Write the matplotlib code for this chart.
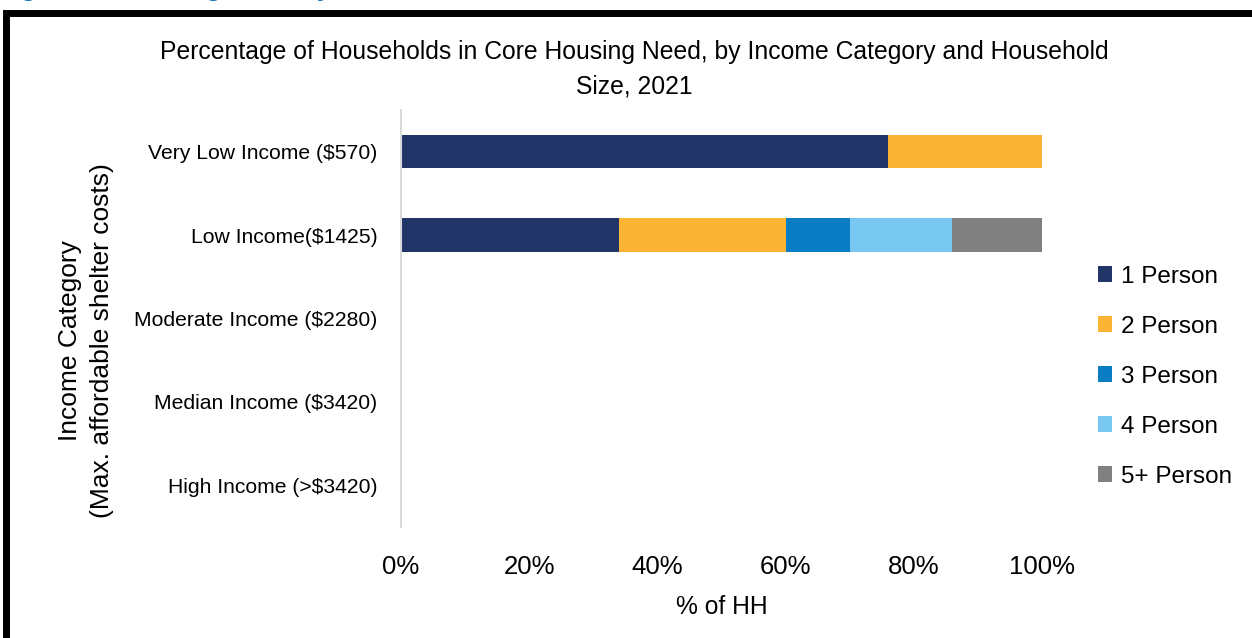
import matplotlib
matplotlib.use("Agg")
import matplotlib.pyplot as plt
from matplotlib.patches import Rectangle
from matplotlib.ticker import FuncFormatter

categories = ["Very Low Income ($570)", "Low Income($1425)", "Moderate Income ($2280)",
              "Median Income ($3420)", "High Income (>$3420)"]
series_names = ["1 Person", "2 Person", "3 Person", "4 Person", "5+ Person"]
one_person = [76, 34, 0, 0, 0]
two_person = [24, 26, 0, 0, 0]
three_person = [0, 10, 0, 0, 0]
four_person = [0, 16, 0, 0, 0]
five_plus = [0, 14, 0, 0, 0]
series_values = [one_person, two_person, three_person, four_person, five_plus]
colors = ["#223568", "#FBB434", "#087DC4", "#77C7F0", "#808080"]
x_ticks = [0, 20, 40, 60, 80, 100]

plt.rcParams['font.family'] = ['Liberation Sans', 'DejaVu Sans']

W, H = 1252, 638
fig = plt.figure(figsize=(W/100, H/100), dpi=100)

# outer frame (cropped)
fig.patches.append(Rectangle((6/W, -0.1), 1.2, (1 - 13.5/H) + 0.1, transform=fig.transFigure,
                             fill=False, edgecolor="black", linewidth=5, zorder=0))
# cropped blue header (only descenders visible)
fig.text(-3/W, 1 + 4/H, "Figure 3: Housing Need by Income", color="#0B74C0", fontsize=19,
         fontweight="bold", va="baseline", ha="left")

ax = fig.add_axes([401/W, 1 - 527/H, (1042-401)/W, (527-110)/H])
ypos = list(range(len(categories)))
left = [0]*len(categories)
for name, vals, c in zip(series_names, series_values, colors):
    ax.barh(ypos, vals, left=left, height=0.4, color=c, label=name, edgecolor="none")
    left = [l + v for l, v in zip(left, vals)]

ax.set_ylim(len(categories) - 0.5, -0.5)
ax.set_xlim(0, 100)
ax.set_yticks(ypos)
ax.set_yticklabels(categories, fontsize=15.2)
ax.set_xticks(x_ticks)
ax.xaxis.set_major_formatter(FuncFormatter(lambda v, p: f"{int(v)}%"))
ax.tick_params(axis='x', labelsize=18.5, length=0, pad=20)
ax.tick_params(axis='y', length=0, pad=17)
for s in ["top", "right", "bottom"]:
    ax.spines[s].set_visible(False)
ax.spines["left"].set_color("#D9D9D9")
ax.spines["left"].set_linewidth(1.5)

ax.set_xlabel("% of HH", fontsize=17.7, labelpad=12)
fig.text(86/W, 1 - 341/H, "Income Category\n(Max. affordable shelter costs)", rotation=90,
         fontsize=19, ha="center", va="center", linespacing=1.4)

fig.text(634/W, 1 - 69/H, "Percentage of Households in Core Housing Need, by Income Category and Household\nSize, 2021",
         fontsize=17.8, ha="center", va="center", linespacing=1.55)

leg = fig.legend(loc="upper left", bbox_to_anchor=(1088/W, 1 - 256/H), frameon=False,
                 fontsize=17.5, handlelength=0.6, handleheight=0.6, handletextpad=0.35,
                 labelspacing=1.15, borderaxespad=0)

fig.savefig("out.png", dpi=100)
